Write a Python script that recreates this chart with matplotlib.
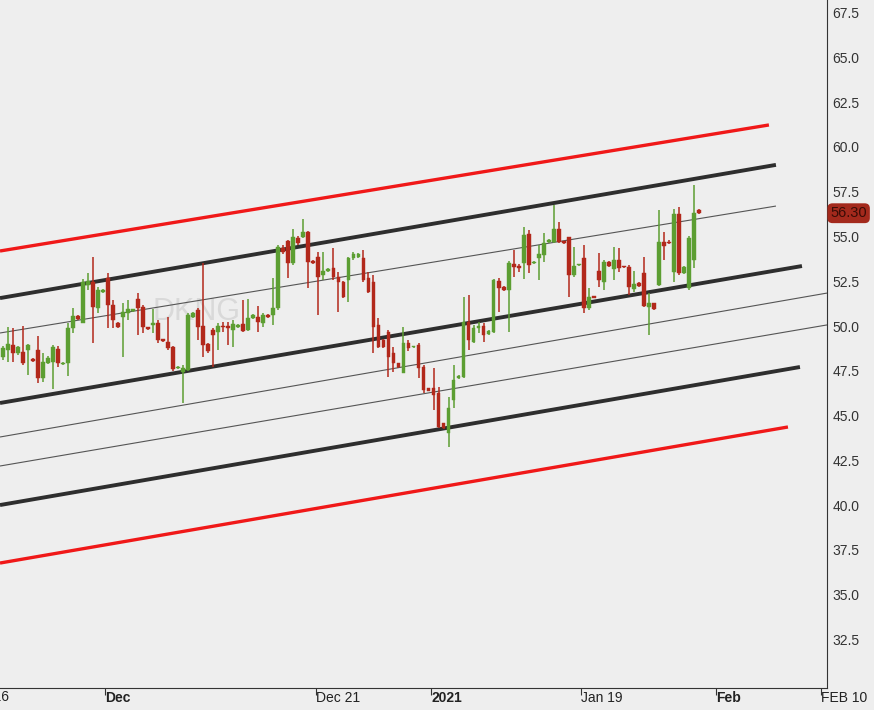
import matplotlib
matplotlib.use("Agg")
import matplotlib.pyplot as plt
import matplotlib.transforms as mtransforms

# DKNG, 3 bars per trading day
opens = [48.27, 48.66, 48.94, 48.49, 48.55, 48.66, 48.15, 48.66, 47.09, 47.93,
         47.99, 48.72, 47.88, 47.93, 49.89, 50.56, 50.17, 52.30, 52.46, 51.01,
         51.90, 52.68, 51.17, 50.17, 50.50, 50.73, 50.85, 51.51, 51.06, 49.94,
         50.06, 50.17, 49.27, 49.11, 48.83, 47.65, 47.43, 47.54, 50.50, 50.89,
         50.00, 48.99, 49.78, 49.66, 50.00, 50.00, 49.78, 49.94, 50.11, 49.78,
         50.45, 50.50, 50.17, 50.61, 50.61, 51.01, 54.36, 54.75, 53.52, 54.92,
         54.97, 55.25, 53.63, 53.85, 52.85, 53.07, 53.24, 52.74, 52.46, 52.57,
         53.80, 53.85, 53.80, 52.68, 52.46, 50.06, 49.22, 49.66, 48.49, 47.93,
         47.37, 49.05, 48.80, 48.94, 47.71, 46.54, 46.54, 46.26, 44.58, 44.02,
         45.87, 47.09, 47.15, 50.22, 49.11, 49.89, 50.00, 49.55, 49.66, 52.51,
         52.18, 52.01, 53.46, 53.35, 53.52, 55.14, 53.52, 53.80, 53.97, 54.69,
         54.69, 55.42, 54.72, 54.97, 52.85, 53.38, 53.80, 51.01, 51.65, 53.07,
         52.46, 53.58, 53.18, 53.69, 53.33, 53.30, 52.07, 52.40, 52.96, 51.06,
         51.28, 52.29, 54.69, 54.69, 53.02, 56.26, 52.96, 52.12, 53.69, 56.50]
highs = [48.88, 49.94, 49.89, 48.90, 50.00, 48.99, 48.20, 49.44, 48.49, 48.30,
         48.94, 48.88, 48.00, 50.17, 51.01, 50.60, 52.63, 52.96, 53.85, 52.18,
         52.05, 52.96, 51.45, 50.20, 51.28, 51.45, 50.95, 51.84, 51.17, 49.96,
         50.95, 50.34, 49.30, 50.50, 48.88, 47.75, 47.82, 50.70, 50.78, 51.01,
         53.52, 49.05, 49.89, 50.17, 50.22, 50.22, 50.34, 50.10, 51.45, 51.51,
         50.65, 51.12, 50.73, 50.65, 52.68, 54.53, 54.50, 54.80, 55.42, 55.00,
         55.98, 55.31, 53.68, 54.13, 54.13, 53.22, 54.36, 53.02, 52.50, 53.85,
         54.13, 54.08, 54.25, 53.02, 52.85, 50.45, 49.27, 49.78, 48.83, 47.96,
         49.94, 49.22, 48.90, 49.05, 47.82, 46.56, 47.65, 46.59, 44.60, 46.03,
         47.82, 47.25, 51.62, 51.73, 50.06, 50.22, 50.17, 49.78, 52.63, 52.68,
         52.23, 53.63, 54.25, 53.46, 55.53, 55.36, 53.62, 54.53, 55.20, 54.85,
         56.76, 55.81, 54.75, 54.97, 54.41, 53.46, 54.53, 52.12, 51.70, 54.08,
         53.69, 53.62, 54.41, 54.36, 53.36, 53.41, 53.07, 52.45, 53.85, 51.84,
         51.30, 56.48, 55.25, 54.78, 56.54, 56.65, 53.35, 55.00, 57.88, 56.55]
lows = [48.10, 47.99, 47.99, 48.40, 47.82, 47.26, 48.00, 46.82, 46.87, 47.85,
        46.48, 47.71, 47.82, 47.21, 49.61, 50.35, 50.17, 52.00, 49.05, 50.73,
        51.85, 49.89, 49.89, 49.90, 48.27, 50.34, 50.80, 49.50, 49.61, 49.80,
        49.61, 49.05, 49.10, 48.66, 47.49, 47.60, 45.70, 47.50, 50.45, 49.22,
        48.27, 48.50, 47.71, 48.66, 49.66, 48.94, 48.83, 49.90, 49.66, 49.72,
        50.40, 49.66, 49.94, 50.45, 50.06, 50.89, 54.02, 52.68, 53.41, 54.53,
        54.92, 52.12, 53.48, 50.61, 52.57, 53.03, 52.57, 50.78, 51.55, 51.34,
        53.69, 53.80, 52.46, 51.84, 48.49, 48.77, 48.78, 47.15, 47.43, 47.68,
        47.37, 48.60, 48.75, 47.09, 46.26, 46.35, 45.31, 44.30, 44.25, 43.24,
        45.42, 47.05, 47.09, 48.66, 49.05, 49.61, 49.11, 49.50, 49.61, 50.78,
        51.96, 49.66, 52.74, 53.02, 52.63, 52.96, 53.48, 52.57, 53.58, 54.65,
        54.64, 54.64, 54.60, 51.62, 52.74, 53.35, 50.73, 50.89, 51.55, 52.18,
        52.01, 53.30, 52.57, 53.02, 53.25, 51.73, 51.90, 52.20, 51.06, 49.50,
        50.90, 52.23, 53.69, 54.60, 52.46, 52.85, 52.90, 52.00, 53.24, 56.25]
closes = [48.77, 48.99, 48.49, 48.83, 47.93, 48.94, 48.05, 47.09, 47.99, 48.21,
          48.83, 47.93, 47.96, 49.89, 50.56, 50.39, 52.46, 52.50, 51.06, 52.01,
          52.01, 51.17, 50.34, 49.94, 50.78, 50.95, 50.92, 51.01, 49.94, 49.83,
          50.17, 49.22, 49.16, 48.77, 47.60, 47.71, 47.65, 50.61, 50.73, 49.94,
          48.94, 48.60, 49.50, 50.00, 49.94, 49.89, 50.11, 50.06, 49.72, 50.45,
          50.61, 50.22, 50.61, 50.50, 51.01, 54.41, 54.13, 53.52, 54.97, 54.64,
          55.25, 53.58, 53.52, 52.74, 53.07, 53.18, 52.74, 52.46, 51.62, 53.80,
          54.02, 54.02, 52.57, 51.90, 49.94, 48.83, 48.83, 48.27, 47.93, 47.71,
          49.05, 48.77, 48.86, 47.65, 46.42, 46.37, 46.15, 44.36, 44.30, 45.42,
          46.98, 47.21, 50.22, 49.22, 49.89, 50.00, 49.50, 49.72, 52.57, 52.12,
          52.01, 53.52, 53.30, 53.24, 55.08, 53.41, 53.58, 54.02, 54.64, 54.80,
          55.42, 54.69, 54.66, 52.85, 53.35, 53.43, 51.01, 51.62, 51.58, 52.57,
          53.58, 53.35, 53.69, 53.24, 53.28, 52.18, 52.35, 52.23, 51.12, 51.28,
          50.95, 54.69, 54.47, 54.64, 56.26, 52.96, 53.30, 54.92, 56.31, 56.30]

last_price = "56.30"

# channel lines: start at left edge, end values
line_kind = ["red", "black", "thin", "black", "thin", "thin", "black", "red"]
line_y_start = [54.19, 51.56, 49.61, 45.70, 43.80, 42.18, 40.00, 36.76]
line_x_end = [153.0, 154.4, 154.4, 159.6, 164.6, 164.6, 159.2, 156.8]
line_y_end = [61.23, 59.00, 56.70, 53.35, 51.84, 50.06, 47.71, 44.36]

# x tick positions (bar index) and labels
tick_pos = [20.4, 62.5, 85.5, 115.4, 142.4, 163.4]
tick_labels = ["Dec", "Dec 21", "2021", "Jan 19", "Feb", "FEB 10"]
tick_bold = [True, False, True, False, True, False]

y_ticks = [32.5, 35.0, 37.5, 40.0, 42.5, 45.0, 47.5, 50.0, 52.5, 55.0, 57.5, 60.0, 62.5, 65.0, 67.5]

bg = "#eeeeee"
up_col = "#5c9e32"
down_col = "#b2281b"

fig = plt.figure(figsize=(8.74, 7.10), dpi=100, facecolor=bg)
ax = fig.add_axes([0, 22 / 710, 827 / 874, 688 / 710], facecolor=bg)

ax.set_xlim(-0.6, 164.6)
ax.set_ylim(29.78, 68.21)

# watermark
ax.text(0.238, 0.547, "DKNG", transform=ax.transAxes, fontsize=22, color="#d9d9d9",
        ha="center", va="center", family="Liberation Sans", zorder=0)

styles = {
    "red": dict(color="#f01818", lw=2.4),
    "black": dict(color="#2e2e2e", lw=2.8),
    "thin": dict(color="#555555", lw=0.8),
}
for k, y0, x1, y1 in zip(line_kind, line_y_start, line_x_end, line_y_end):
    ax.plot([-0.6, x1], [y0, y1], solid_capstyle="butt", zorder=1, **styles[k])

# candles
for i, (o, h, l, c) in enumerate(zip(opens, highs, lows, closes)):
    col = up_col if c >= o else down_col
    ax.vlines(i, l, h, color=col, lw=1.1, zorder=2)
    body = max(abs(c - o), 0.08)
    ax.bar(i, body, bottom=min(o, c), width=0.76, color=col, edgecolor=col, lw=0.3, zorder=3)

# axes styling
for s in ["left", "top"]:
    ax.spines[s].set_visible(False)
ax.spines["right"].set_color("#333333")
ax.spines["bottom"].set_color("#333333")

ax.yaxis.tick_right()
ax.set_yticks(y_ticks)
ax.set_yticklabels([f"{v:.1f}" for v in y_ticks])
ax.tick_params(axis="y", length=0, pad=4, labelsize=10, labelcolor="#333333")

ax.set_xticks(tick_pos)
ax.set_xticklabels(tick_labels)
ax.tick_params(axis="x", length=5, color="#333333", pad=-2.5, labelsize=10, labelcolor="#222222")
for lbl, b in zip(ax.get_xticklabels(), tick_bold):
    lbl.set_ha("left")
    lbl.set_family("Liberation Sans")
    if b:
        lbl.set_fontweight("bold")
for lbl in ax.get_yticklabels():
    lbl.set_family("Liberation Sans")

# cut-off date label on the left edge
trans = mtransforms.blended_transform_factory(ax.transData, ax.transAxes)
ax.text(-7.6, -0.0035, "Nov 16", transform=trans, ha="left", va="top", fontsize=10,
        color="#222222", family="Liberation Sans", clip_on=False)

# last price tag
trans_y = mtransforms.blended_transform_factory(ax.transAxes, ax.transData)
ax.text(1.004, 56.30, last_price, transform=trans_y, ha="left", va="center", fontsize=10.5,
        color="#3a0c06", family="Liberation Sans", clip_on=False,
        bbox=dict(boxstyle="round,pad=0.2,rounding_size=0.35", fc="#a3291c", ec="none"))

fig.savefig("out.png", dpi=100, facecolor=bg)
